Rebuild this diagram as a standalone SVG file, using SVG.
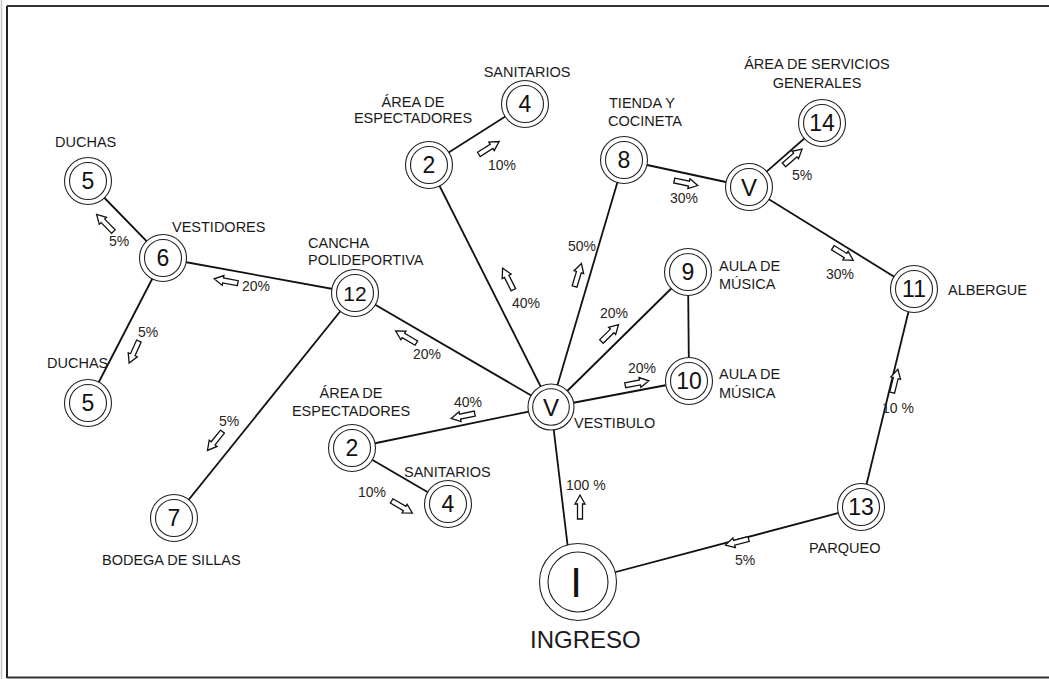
<svg xmlns="http://www.w3.org/2000/svg" xmlns:xlink="http://www.w3.org/1999/xlink" width="1049" height="679" viewBox="0 0 1049 679">
<style>
.lbl{font-family:"Liberation Sans",Arial,sans-serif;font-size:14.5px;fill:#1a1a1a}
.pct{font-family:"Liberation Sans",Arial,sans-serif;font-size:14px;fill:#2a2520}
.num{font-family:"Liberation Sans",Arial,sans-serif;font-size:23px;fill:#111;text-anchor:middle}
.ring{fill:#fff;stroke:#222;stroke-width:1.1}
.ring2{fill:none;stroke:#222;stroke-width:1.1}
.edge{stroke:#111;stroke-width:1.8;fill:none}
.arr{fill:#fff;stroke:#111;stroke-width:1.3;stroke-linejoin:miter}
</style>
<defs>
<path id="arr" class="arr" d="M-12,-2.5 L3,-2.5 L3,-5 L12,0 L3,5 L3,2.5 L-12,2.5 Z"/>
</defs>
<rect width="1049" height="679" fill="#fff"/>
<g id="frame">
<line x1="1.5" y1="0" x2="1.5" y2="679" stroke="#c8c8c8" stroke-width="1.5"/>
<line x1="7" y1="6" x2="1049" y2="6" stroke="#333" stroke-width="2"/>
<line x1="7" y1="6" x2="7" y2="678" stroke="#222" stroke-width="2"/>
<line x1="7" y1="677.5" x2="1049" y2="677.5" stroke="#333" stroke-width="2"/>
</g>
<g id="connectors">
<line class="edge" x1="163" y1="258" x2="88" y2="181"/>
<line class="edge" x1="163" y1="258" x2="355" y2="293"/>
<line class="edge" x1="163" y1="258" x2="88" y2="403"/>
<line class="edge" x1="355" y1="293" x2="174" y2="518"/>
<line class="edge" x1="355" y1="293" x2="551" y2="407"/>
<line class="edge" x1="429" y1="165" x2="551" y2="407"/>
<line class="edge" x1="429" y1="165" x2="525" y2="104"/>
<line class="edge" x1="624" y1="160" x2="551" y2="407"/>
<line class="edge" x1="551" y1="407" x2="688" y2="272"/>
<line class="edge" x1="688" y1="272" x2="689" y2="381"/>
<line class="edge" x1="551" y1="407" x2="688" y2="381"/>
<line class="edge" x1="551" y1="407" x2="352" y2="448"/>
<line class="edge" x1="352" y1="448" x2="448" y2="504"/>
<line class="edge" x1="551" y1="407" x2="572" y2="582"/>
<line class="edge" x1="578" y1="582" x2="861" y2="507"/>
<line class="edge" x1="861" y1="507" x2="914" y2="289"/>
<line class="edge" x1="624" y1="160" x2="749" y2="187"/>
<line class="edge" x1="749" y1="187" x2="822" y2="123"/>
<line class="edge" x1="749" y1="187" x2="914" y2="289"/>
<g id="flow-arrows">
<use xlink:href="#arr" transform="translate(105,223) rotate(-134.3)"/>
<use xlink:href="#arr" transform="translate(226,281) rotate(190.3)"/>
<use xlink:href="#arr" transform="translate(134,352) rotate(114)"/>
<use xlink:href="#arr" transform="translate(215,441) rotate(128.8)"/>
<use xlink:href="#arr" transform="translate(406,337) rotate(210.2)"/>
<use xlink:href="#arr" transform="translate(508,279) rotate(243.2)"/>
<use xlink:href="#arr" transform="translate(489,148) rotate(-32.4)"/>
<use xlink:href="#arr" transform="translate(578,275) rotate(-73.5)"/>
<use xlink:href="#arr" transform="translate(610,333) rotate(-44.6)"/>
<use xlink:href="#arr" transform="translate(637,383) rotate(-10.7)"/>
<use xlink:href="#arr" transform="translate(463,416) rotate(168.4)"/>
<use xlink:href="#arr" transform="translate(402,507) rotate(30.3)"/>
<use xlink:href="#arr" transform="translate(580,507) rotate(-90)"/>
<use xlink:href="#arr" transform="translate(737,542) rotate(165.2)"/>
<use xlink:href="#arr" transform="translate(895,381) rotate(-76.3)"/>
<use xlink:href="#arr" transform="translate(686,183) rotate(12.2)"/>
<use xlink:href="#arr" transform="translate(793,157) rotate(-41.2)"/>
<use xlink:href="#arr" transform="translate(843,254) rotate(31.7)"/>
</g>
<g id="flow-labels">
<text class="pct" x="109" y="246">5%</text>
<text class="pct" x="242" y="291">20%</text>
<text class="pct" x="138" y="337">5%</text>
<text class="pct" x="219" y="426">5%</text>
<text class="pct" x="413" y="359">20%</text>
<text class="pct" x="512" y="308">40%</text>
<text class="pct" x="488" y="170">10%</text>
<text class="pct" x="568" y="251">50%</text>
<text class="pct" x="600" y="318">20%</text>
<text class="pct" x="628" y="373">20%</text>
<text class="pct" x="454" y="407">40%</text>
<text class="pct" x="358" y="497">10%</text>
<text class="pct" x="566" y="490">100 %</text>
<text class="pct" x="735" y="565">5%</text>
<text class="pct" x="882" y="413">10 %</text>
<text class="pct" x="670" y="203">30%</text>
<text class="pct" x="792" y="180">5%</text>
<text class="pct" x="826" y="279">30%</text>
</g>
</g>
<g id="n5a"><circle class="ring" cx="88" cy="181" r="23.5"/><circle class="ring2" cx="88" cy="181" r="18.5"/><text class="num" x="88" y="189">5</text><text class="lbl" x="55" y="147">DUCHAS</text></g>
<g id="n6"><circle class="ring" cx="163" cy="258" r="23.5"/><circle class="ring2" cx="163" cy="258" r="18.5"/><text class="num" x="163" y="266">6</text><text class="lbl" x="172" y="232">VESTIDORES</text></g>
<g id="n5b"><circle class="ring" cx="88" cy="403" r="23.5"/><circle class="ring2" cx="88" cy="403" r="18.5"/><text class="num" x="88" y="411">5</text><text class="lbl" x="47" y="368">DUCHAS</text></g>
<g id="n12"><circle class="ring" cx="355" cy="293" r="23.5"/><circle class="ring2" cx="355" cy="293" r="18.5"/><text class="num" x="355" y="301" style="font-size:21px">12</text><text class="lbl" x="308" y="248">CANCHA</text><text class="lbl" x="308" y="265">POLIDEPORTIVA</text></g>
<g id="n7"><circle class="ring" cx="174" cy="518" r="23.5"/><circle class="ring2" cx="174" cy="518" r="18.5"/><text class="num" x="174" y="526">7</text><text class="lbl" x="102" y="565">BODEGA DE SILLAS</text></g>
<g id="n2a"><circle class="ring" cx="429" cy="165" r="23.5"/><circle class="ring2" cx="429" cy="165" r="18.5"/><text class="num" x="429" y="173">2</text><text class="lbl" x="413" y="107" text-anchor="middle">ÁREA DE</text><text class="lbl" x="413" y="123" text-anchor="middle">ESPECTADORES</text></g>
<g id="n4a"><circle class="ring" cx="525" cy="104" r="23.5"/><circle class="ring2" cx="525" cy="104" r="18.5"/><text class="num" x="525" y="112">4</text><text class="lbl" x="527" y="77" text-anchor="middle">SANITARIOS</text></g>
<g id="n8"><circle class="ring" cx="624" cy="160" r="23.5"/><circle class="ring2" cx="624" cy="160" r="18.5"/><text class="num" x="624" y="168">8</text><text class="lbl" x="609" y="108">TIENDA Y</text><text class="lbl" x="608" y="126">COCINETA</text></g>
<g id="nVb"><circle class="ring" cx="749" cy="187" r="23.5"/><circle class="ring2" cx="749" cy="187" r="18.5"/><text class="num" x="749" y="196" style="font-size:24px">V</text></g>
<g id="n14"><circle class="ring" cx="822" cy="123" r="23.5"/><circle class="ring2" cx="822" cy="123" r="18.5"/><text class="num" x="822" y="131">14</text><text class="lbl" x="817" y="69" text-anchor="middle">ÁREA DE SERVICIOS</text><text class="lbl" x="817" y="88" text-anchor="middle">GENERALES</text></g>
<g id="n9"><circle class="ring" cx="688" cy="272" r="23.5"/><circle class="ring2" cx="688" cy="272" r="18.5"/><text class="num" x="688" y="280">9</text><text class="lbl" x="719" y="271">AULA DE</text><text class="lbl" x="719" y="289">MÚSICA</text></g>
<g id="n10"><circle class="ring" cx="689" cy="381" r="23.5"/><circle class="ring2" cx="689" cy="381" r="18.5"/><text class="num" x="689" y="389">10</text><text class="lbl" x="719" y="379">AULA DE</text><text class="lbl" x="719" y="398">MÚSICA</text></g>
<g id="n11"><circle class="ring" cx="914" cy="289" r="23.5"/><circle class="ring2" cx="914" cy="289" r="18.5"/><text class="num" x="914" y="297">11</text><text class="lbl" x="948" y="295">ALBERGUE</text></g>
<g id="nV"><circle class="ring" cx="551" cy="407" r="23"/><circle class="ring2" cx="551" cy="407" r="18.3"/><text class="num" x="551" y="416" style="font-size:24px">V</text><text class="lbl" x="574" y="428">VESTIBULO</text></g>
<g id="n2b"><circle class="ring" cx="352" cy="448" r="23.5"/><circle class="ring2" cx="352" cy="448" r="18.5"/><text class="num" x="352" y="456">2</text><text class="lbl" x="351" y="398" text-anchor="middle">ÁREA DE</text><text class="lbl" x="351" y="416" text-anchor="middle">ESPECTADORES</text></g>
<g id="n4b"><circle class="ring" cx="448" cy="504" r="23.5"/><circle class="ring2" cx="448" cy="504" r="18.5"/><text class="num" x="448" y="512">4</text><text class="lbl" x="404" y="477">SANITARIOS</text></g>
<g id="n13"><circle class="ring" cx="861" cy="507" r="23.5"/><circle class="ring2" cx="861" cy="507" r="18.5"/><text class="num" x="861" y="515">13</text><text class="lbl" x="809" y="553">PARQUEO</text></g>
<g id="nI"><circle class="ring" cx="578" cy="582" r="38.5"/><circle class="ring2" cx="578" cy="582" r="30"/><text class="num" x="576" y="597" style="font-size:42px">I</text><text class="lbl" x="530" y="648" style="font-size:24px">INGRESO</text></g>
</svg>
